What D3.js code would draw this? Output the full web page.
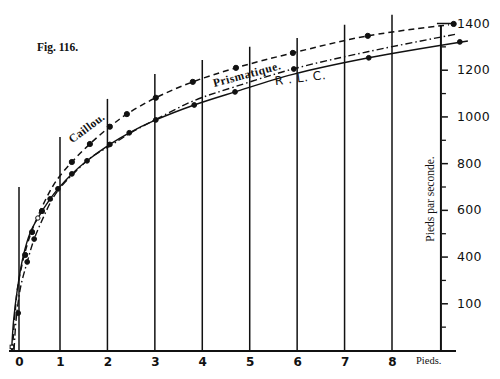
<!DOCTYPE html>
<html><head><meta charset="utf-8">
<script src="https://cdn.jsdelivr.net/npm/d3@7"></script>
<style>html,body{margin:0;padding:0;background:#fff;}svg{display:block;}</style>
</head><body>
<script>
// ---- data ----
const xTicks = [0,1,2,3,4,5,6,7,8];
const xTickLabels = ["0","1","2","3","4","5","6","7","8"];
const yMajor = [200,400,600,800,1000,1200,1400];
const yMajorLabels = ["100","400","600","800","1000","1200","1400"];
const yMinor = [100,300,500,700,900,1100,1300];
const gridTops = [698,912,1075,1182,1242,1298,1336,1392,1435];

const caillouLine = [[-0.16,0],[-0.11,130],[-0.03,270],[0.12,400],[0.3,505],[0.46,572],[0.68,655],[0.9,722],[1.25,805],[1.63,882],[2.05,956],[2.41,1010],[3.02,1080],[3.80,1148],[4.71,1208],[5.91,1272],[7.49,1345],[9.2,1392]];
const caillouDots = [[0.15,407],[0.32,505],[0.56,595],[1.25,805],[1.63,882],[2.05,956],[2.41,1010],[3.02,1080],[3.80,1148],[4.71,1208],[5.91,1272],[7.49,1345],[9.3,1396]];

const prismLine = [[-0.12,0],[-0.07,130],[0.04,270],[0.2,377],[0.37,475],[0.6,570],[0.8,642],[1.0,694],[1.32,762],[1.67,827],[2.05,873],[2.45,925],[3.02,987],[3.83,1068],[4.67,1126],[5.91,1203],[7.51,1278],[9.37,1353]];
const prismDots = [[0.2,377],[0.37,475],[5.93,1203]];

const rlgLine = [[-0.18,0],[-0.13,130],[-0.04,260],[0.1,400],[0.28,505],[0.46,565],[0.76,647],[0.95,690],[1.25,754],[1.57,810],[2.05,880],[2.46,930],[3.02,985],[3.83,1049],[4.69,1105],[5.91,1180],[7.51,1251],[9.6,1323]];
const rlgDots = [[-0.02,158],[0.76,647],[0.95,690],[1.25,754],[1.57,810],[2.05,880],[2.46,930],[3.02,985],[3.83,1049],[4.69,1105],[7.51,1251],[9.43,1319]];
const rlgOpen = [[0.46,565]];

// ---- drawing ----
const W=500,H=379;
const svg=d3.select("body").append("svg").attr("width",W).attr("height",H);
svg.append("rect").attr("width",W).attr("height",H).attr("fill","#fff");

const x=d3.scaleLinear().domain([0,1,8]).range([19,60,392]);
const y=d3.scaleLinear().domain([0,1400]).range([350,23]);
const axisX=x(9)+1.5;
const ink="#111";

// vertical grid lines
svg.append("g").selectAll("line").data(xTicks).join("line")
  .attr("x1",d=>x(d)).attr("x2",d=>x(d))
  .attr("y1",y(0)).attr("y2",(d,i)=>y(gridTops[i]))
  .attr("stroke",ink).attr("stroke-width",1.5);

// baseline
svg.append("line").attr("x1",9).attr("x2",456).attr("y1",y(0)+1).attr("y2",y(0)+1)
  .attr("stroke",ink).attr("stroke-width",2);

// y axis via d3.axisRight
const yAxisG=svg.append("g").attr("transform",`translate(${axisX},0)`);
yAxisG.append("line").attr("x1",0).attr("x2",0).attr("y1",y(1400)+2).attr("y2",y(0)+2)
  .attr("stroke",ink).attr("stroke-width",2);
const ax=d3.axisRight(y).tickValues(yMajor).tickSize(7).tickPadding(9)
  .tickFormat((d,i)=>yMajorLabels[i]);
const g1=yAxisG.append("g").call(ax);
g1.select(".domain").remove();
g1.selectAll(".tick line").attr("stroke",ink).attr("stroke-width",1.5).attr("x1",1);
g1.selectAll(".tick text").attr("fill",ink).style("font-family","DejaVu Sans, sans-serif")
  .style("font-size","12.5px").attr("letter-spacing","0.3px");
g1.selectAll(".tick").filter(d=>d===1400).select("line").attr("x1",-4).attr("x2",13);
const ax2=d3.axisRight(y).tickValues(yMinor).tickSize(5).tickFormat("");
const g2=yAxisG.append("g").call(ax2);
g2.select(".domain").remove();
g2.selectAll(".tick line").attr("stroke",ink).attr("stroke-width",1.3).attr("x1",1);

// x tick labels
const xa=d3.axisBottom(x).tickValues(xTicks).tickSize(0).tickPadding(6).tickFormat((d,i)=>xTickLabels[i]);
const gx=svg.append("g").attr("transform",`translate(0,${y(0)+1})`).call(xa);
gx.select(".domain").remove();
gx.selectAll(".tick text").attr("fill",ink).style("font-family","DejaVu Sans, sans-serif")
  .style("font-size","12px").style("font-weight","bold");

// curves
const line=d3.line().x(d=>x(d[0])).y(d=>y(d[1])).curve(d3.curveCatmullRom.alpha(0.5));
svg.append("path").attr("d",line(rlgLine)).attr("fill","none").attr("stroke",ink).attr("stroke-width",1.4);
svg.append("path").attr("d",line(prismLine)).attr("fill","none").attr("stroke",ink).attr("stroke-width",1.4)
  .attr("stroke-dasharray","7,3,1.5,3");
svg.append("path").attr("d",line(caillouLine)).attr("fill","none").attr("stroke",ink).attr("stroke-width",1.5)
  .attr("stroke-dasharray","6,4");

// dots
function dots(arr,r,fill){
  svg.append("g").selectAll("circle").data(arr).join("circle")
    .attr("cx",d=>x(d[0])).attr("cy",d=>y(d[1])).attr("r",r)
    .attr("fill",fill).attr("stroke",ink).attr("stroke-width",1);
}
dots(caillouDots,2.6,ink);
dots(prismDots,2.4,ink);
dots(rlgDots,2.4,ink);
dots(rlgOpen,2.2,"#fff");
svg.append("rect").attr("x",x(-0.18)-1.5).attr("y",y(10)-2.5).attr("width",3.5).attr("height",3.5)
  .attr("fill","#fff").attr("stroke",ink).attr("stroke-width",1);

// texts
const serif="Liberation Serif, DejaVu Serif, serif";
svg.append("text").attr("x",37).attr("y",51).text("Fig. 116.")
  .style("font-family",serif).style("font-size","11.5px").style("font-weight","bold").attr("fill",ink);
svg.append("text").attr("transform","translate(89,131) rotate(-37)").attr("text-anchor","middle")
  .text("Caillou.").style("font-family",serif).style("font-size","11.5px").style("font-weight","bold").attr("fill",ink).attr("letter-spacing","0.4px");
svg.append("text").attr("transform","translate(248,78) rotate(-15)").attr("text-anchor","middle")
  .text("Prismatique.").style("font-family",serif).style("font-size","11.5px").style("font-weight","bold").attr("fill",ink).attr("letter-spacing","0.6px");
svg.append("text").attr("transform","translate(301,82) rotate(-7)").attr("text-anchor","middle")
  .text("R . L. C.").style("font-family","DejaVu Sans, sans-serif").style("font-size","12px").attr("fill",ink).attr("letter-spacing","0.6px");
svg.append("text").attr("x",416).attr("y",364).text("Pieds.")
  .style("font-family",serif).style("font-size","10.5px").attr("fill",ink);
svg.append("text").attr("transform","translate(434,199) rotate(-90)").attr("text-anchor","middle")
  .text("Pieds par seconde.").style("font-family",serif).style("font-size","11.5px").attr("fill",ink);
</script>
</body></html>
